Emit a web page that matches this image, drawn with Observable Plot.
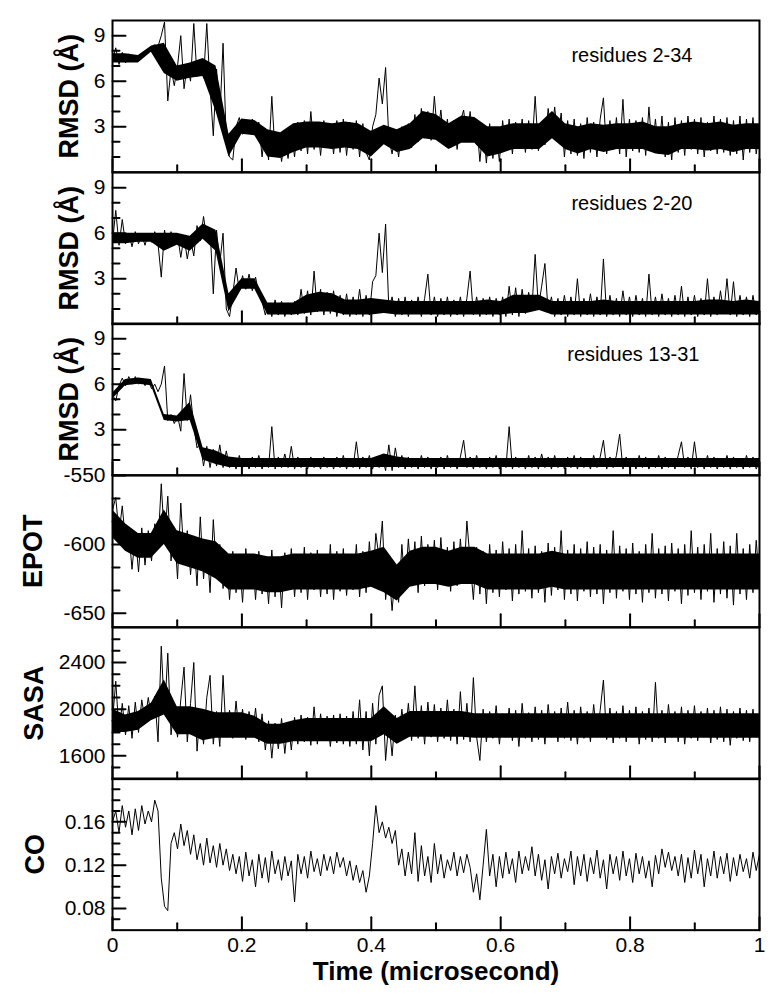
<!DOCTYPE html>
<html><head><meta charset="utf-8">
<script src="https://cdn.jsdelivr.net/npm/d3@7"></script>
<script src="https://cdn.jsdelivr.net/npm/@observablehq/plot@0.6"></script>
<style>
body{margin:0;background:#fff;}
#chart{position:relative;width:781px;height:1006px;}
.panel{position:absolute;left:0;}
</style></head><body><div id="chart"></div>
<script>
// RMSD residues 2-34 (Å), uniformly sampled over 0..1 microsecond
const rmsd234 = [7.3,8.2,7.1,7.9,7.2,7.8,7.3,7.7,7.4,7.6,
7.7,8.1,8.3,8.4,8.3,9.0,9.9,4.7,
6.8,5.7,7.0,9.0,5.5,7.1,6.0,9.8,6.3,7.4,6.2,9.8,5.6,2.4,6.8,3.5,8.5,2.0,1.0,0.8,
3.0,3.6,2.5,3.4,2.6,3.5,2.7,3.3,
1.0,2.9,0.8,5.0,1.2,2.5,0.7,2.2,0.9,2.6,
1.0,3.3,1.4,3.4,1.2,4.0,1.5,3.3,1.1,3.4,1.6,3.2,1.2,3.4,1.3,3.5,1.1,3.3,1.5,3.4,1.0,3.2,1.3,
0.8,3.0,3.8,6.2,4.5,6.9,2.2,
1.2,2.6,1.0,3.0,1.5,3.2,1.6,
3.8,2.0,4.2,2.3,4.0,2.1,5.0,2.4,4.1,1.8,3.5,1.6,
3.4,1.5,3.3,4.1,2.2,4.0,2.0,
3.3,0.7,3.0,0.6,3.2,0.9,2.8,0.7,3.4,
1.4,3.5,1.2,3.3,1.6,3.5,1.3,3.4,1.5,5.0,1.4,3.3,1.8,
4.2,2.3,4.3,2.2,3.9,
1.0,3.4,1.2,3.5,1.1,3.2,0.9,3.6,1.3,3.3,1.0,3.5,4.9,1.2,3.4,1.5,3.6,1.2,4.8,1.0,3.5,1.4,
3.4,1.3,3.6,1.1,4.3,1.4,3.5,1.2,3.7,1.0,3.3,0.8,3.6,1.3,3.4,1.1,3.7,1.5,3.5,1.2,
3.6,1.0,3.3,1.4,3.7,1.2,3.5,1.3,3.6,1.1,3.4,1.2,3.7,0.8,3.5,1.3,3.6,1.2,2.8];
// dense core of the trace, every 0.02 microsecond
const rmsd234Lo = [7.2,7.2,7.2,7.9,6.5,6.0,6.2,6.3,4.0,1.0,2.5,2.4,1.0,0.9,1.3,1.6,1.6,1.5,1.6,1.5,1.0,1.8,1.3,1.5,2.2,2.1,1.5,1.9,1.9,1.0,1.2,1.5,1.5,1.5,2.2,1.5,1.2,1.5,1.3,1.5,1.5,1.5,1.2,1.1,1.5,1.5,1.4,1.5,1.3,1.5,1.5];
const rmsd234Hi = [7.8,7.8,7.7,8.3,8.5,7.0,7.2,7.5,7.0,2.5,3.5,3.4,2.8,2.6,3.2,3.3,3.3,3.2,3.3,3.2,2.7,3.1,2.8,3.2,4.0,3.8,3.2,3.7,3.6,3.0,3.0,3.2,3.2,3.2,4.0,3.2,3.0,3.2,3.1,3.2,3.2,3.3,3.0,3.0,3.2,3.3,3.2,3.3,3.1,3.2,3.2];

// RMSD residues 2-20 (Å)
const rmsd220 = [5.4,7.5,5.2,6.9,5.3,6.0,5.1,6.1,5.3,5.9,5.2,6.0,5.4,6.1,5.3,
3.1,6.2,
5.0,6.1,5.2,5.9,4.4,5.8,4.3,5.6,4.5,
6.5,5.5,7.1,5.6,
6.3,2.0,6.2,4.0,6.0,
1.0,0.5,2.0,
3.7,2.2,3.2,2.3,3.3,2.2,3.1,2.0,
1.5,0.6,1.4,0.5,1.6,0.6,1.5,0.5,1.4,0.6,1.5,
0.6,2.3,0.7,2.2,0.6,3.5,0.8,2.3,0.6,2.1,0.7,2.2,
0.5,1.9,0.6,2.0,0.5,1.8,0.6,2.3,0.5,1.9,0.6,2.8,
3.2,6.0,3.4,6.6,
1.0,1.8,0.5,1.7,0.6,1.8,0.5,1.6,0.7,1.8,0.5,1.7,3.3,0.6,1.8,0.5,1.7,0.6,1.8,0.5,
1.6,0.6,1.8,0.5,1.7,3.5,0.6,1.8,0.5,1.7,0.6,1.8,0.5,1.7,0.6,1.8,
0.5,2.5,0.6,2.4,0.5,2.3,0.7,2.1,
1.0,4.6,1.1,2.5,4.0,0.8,
1.8,0.5,1.7,0.6,1.9,0.5,1.8,0.6,3.0,0.5,1.7,0.6,2.0,0.5,1.8,0.6,4.3,0.5,1.9,0.6,
1.7,0.5,2.2,0.6,1.8,0.5,1.9,0.6,1.7,0.5,3.3,0.6,1.8,0.5,2.0,0.6,1.7,0.5,1.9,0.6,
2.5,0.5,1.8,0.6,1.9,0.5,1.7,0.6,3.0,0.5,1.8,0.6,2.2,0.7,3.0,0.6,2.8,0.5,1.9,0.6,
1.8,0.5,1.9,0.6,1.2];
const rmsd220Lo = [5.3,5.3,5.4,5.4,4.8,5.2,4.8,5.6,4.8,0.8,2.3,2.3,0.6,0.6,0.6,0.7,0.8,0.8,0.6,0.6,0.6,0.7,0.6,0.6,0.6,0.6,0.6,0.6,0.6,0.6,0.6,0.7,0.7,0.9,0.6,0.6,0.6,0.6,0.6,0.6,0.6,0.6,0.6,0.6,0.6,0.6,0.6,0.6,0.6,0.6,0.6];
const rmsd220Hi = [6.0,6.0,6.0,6.0,6.0,6.0,5.8,6.6,6.2,2.0,3.0,3.0,1.4,1.4,1.4,1.9,2.1,2.0,1.6,1.6,1.7,1.6,1.5,1.5,1.5,1.5,1.5,1.5,1.5,1.6,1.5,1.9,1.9,1.9,1.5,1.5,1.5,1.5,1.6,1.5,1.5,1.5,1.5,1.5,1.5,1.5,1.6,1.6,1.5,1.6,1.5];

// RMSD residues 13-31 (Å)
const rmsd1331 = [5.3,4.9,
5.9,6.4,5.9,6.5,6.0,6.5,6.0,6.4,5.9,6.3,5.7,6.0,5.5,
6.0,7.2,3.6,
4.0,3.4,3.9,2.9,
6.7,3.6,5.3,3.2,1.8,
2.1,0.6,1.9,0.5,1.7,0.6,2.0,0.5,1.6,
0.5,1.2,0.4,1.3,0.5,1.1,0.4,1.2,0.5,1.3,
0.4,1.1,0.5,3.2,0.4,1.2,0.5,1.4,0.5,1.9,
0.4,1.2,0.5,1.1,0.4,1.2,0.5,1.0,0.4,1.2,
0.5,1.1,0.4,1.2,0.5,1.3,0.4,1.1,0.5,2.2,
0.4,1.2,0.5,1.3,0.4,1.1,0.5,1.2,0.3,2.0,
0.3,1.8,0.5,1.3,0.4,1.2,0.5,1.1,0.4,1.3,
0.5,1.2,0.4,1.1,0.5,1.2,0.4,1.3,0.5,1.1,
0.4,1.2,2.3,0.5,1.2,0.4,1.3,0.5,1.1,0.4,
1.2,0.5,1.3,0.4,1.1,0.5,3.2,0.4,1.2,0.5,
1.1,0.4,1.3,0.5,1.2,0.4,1.4,0.5,1.2,0.4,
1.3,0.5,1.1,0.4,1.2,0.5,1.3,0.4,1.2,0.5,
1.1,0.4,1.3,0.5,1.2,2.3,0.4,1.2,0.5,1.3,
2.7,0.4,1.2,0.5,1.1,0.4,1.3,0.5,1.2,0.4,
1.1,0.5,1.3,0.4,1.2,0.5,1.1,0.4,1.3,2.2,
0.5,1.2,0.4,2.2,0.5,1.1,0.4,1.3,0.5,1.2,
0.4,1.1,0.5,1.3,0.4,1.2,0.5,1.1,0.4,1.3,
0.5,1.2,0.4,0.9];
const rmsd1331Lo = [5.0,5.9,6.0,5.9,3.6,3.5,3.6,1.0,0.7,0.5,0.5,0.5,0.5,0.5,0.5,0.5,0.5,0.5,0.5,0.5,0.5,0.5,0.5,0.5,0.5,0.5,0.5,0.5,0.5,0.5,0.5,0.5,0.5,0.5,0.5,0.5,0.5,0.5,0.5,0.5,0.5,0.5,0.5,0.5,0.5,0.5,0.5,0.5,0.5,0.5,0.5];
const rmsd1331Hi = [5.4,6.3,6.4,6.3,4.0,3.9,4.8,1.8,1.6,1.2,1.1,1.1,1.1,1.1,1.1,1.1,1.1,1.1,1.1,1.1,1.1,1.4,1.2,1.1,1.1,1.1,1.1,1.1,1.1,1.1,1.1,1.1,1.1,1.1,1.1,1.1,1.1,1.1,1.1,1.1,1.1,1.1,1.1,1.1,1.1,1.1,1.1,1.1,1.1,1.1,1.1];

// Potential energy
const epot = [-575,-566,-592,-572,-598,
-590,-618,-592,-620,-588,-615,-590,-612,-585,
-600,-556,-598,-565,
-612,-588,-625,-570,-610,-590,-622,
-595,-630,-580,-625,-598,-635,-582,-620,-600,-632,
-608,-640,-605,-635,-610,-642,-603,-630,-608,-640,-605,-636,-612,-643,-604,-638,-609,-646,-606,-632,
-603,-638,-608,-635,-602,-640,-606,-633,-604,-638,-609,-636,-600,-640,-605,-634,-603,-637,-607,-633,-600,-638,-605,-635,-598,-630,-592,-610,
-583,
-640,-618,-648,-620,-642,
-600,-632,-596,-628,-598,-635,-594,-630,-600,-627,-597,-633,-595,-629,-602,-634,-598,-630,-596,-628,-583,-612,
-640,-602,-636,-605,-643,-600,-635,-604,-638,-598,
-633,-603,-641,-600,-636,-590,-634,-603,-639,-601,
-635,-605,-642,-599,-637,-602,-633,-590,-640,-604,
-636,-600,-641,-603,-634,-598,-638,-602,-636,-600,
-643,-604,-635,-590,-639,-601,-634,-603,-640,-599,
-636,-605,-642,-600,-635,-592,-639,-603,-636,-601,
-641,-599,-634,-603,-643,-600,-637,-590,-635,-602,
-640,-600,-634,-592,-642,-603,-636,-598,-639,-601,
-644,-592,-636,-603,-640,-600,-635,-597,-628];
const epotLo = [-595,-605,-610,-610,-600,-614,-617,-620,-625,-633,
-633,-633,-635,-635,-633,-633,-633,-633,-633,-633,
-631,-635,-641,-631,-629,-629,-631,-629,-629,-633,
-633,-633,-633,-633,-631,-633,-633,-633,-633,-633,
-633,-633,-633,-633,-633,-633,-633,-633,-633,-633,-633];
const epotHi = [-575,-585,-592,-592,-575,-590,-593,-596,-598,-607,
-607,-607,-609,-609,-607,-607,-607,-607,-607,-607,
-605,-602,-615,-605,-602,-602,-605,-602,-602,-607,
-607,-607,-607,-607,-605,-607,-607,-607,-607,-607,
-607,-607,-607,-607,-607,-607,-607,-607,-607,-607,-607];

// Solvent accessible surface area
const sasa = [1900,2240,1800,
2050,1780,2030,1750,2060,1800,2080,1900,2100,1920,2110,
1720,2540,1950,2480,1780,
2050,1760,2080,2360,1720,2050,2400,1640,2000,1700,2100,2290,1700,1980,1680,2290,
1760,1990,1750,2070,1770,2000,1740,1980,1760,2010,1720,1960,
1650,1900,1580,1880,1660,1920,1620,1890,1650,1930,
1700,1950,1720,1930,1690,2020,1700,1960,1730,1940,1680,1950,1710,1960,1700,1940,1680,1980,
1700,2080,1650,1980,1600,2050,1700,2120,
2200,1560,1900,1600,1950,
1720,2000,1760,2050,1730,2200,1750,2030,1700,2060,1760,2040,1720,2010,1750,2080,1730,2000,1700,2150,1740,2050,1720,2270,1760,1560,
2000,1720,1980,1750,2030,1700,1960,1760,2010,1730,
1990,1680,2050,1750,1970,1720,2020,1740,1990,1700,
2040,1760,1980,1720,2010,1750,2060,1730,1990,1700,
2020,1750,1980,1720,2040,1760,1990,2250,1740,2010,
1710,1980,1750,2030,1720,1990,1760,2020,1700,1980,
1740,2010,1720,2230,1750,1990,1710,2040,1760,1980,
1720,2020,1700,1990,1750,2030,1730,1980,1760,2010,
1710,1990,1740,2020,1720,2000,1690,1980,1750,2010,
1730,1990,1720,2000,1760,1850];
const sasaLo = [1800,1800,1820,1900,1950,1780,1780,1730,1750,1750,
1750,1750,1700,1700,1720,1720,1720,1720,1720,1720,
1720,1780,1700,1760,1760,1760,1760,1760,1750,1750,
1750,1750,1750,1750,1750,1750,1750,1750,1750,1750,
1750,1750,1750,1750,1750,1750,1750,1750,1750,1750,1750];
const sasaHi = [2000,1950,1980,2050,2250,2020,2020,2000,1970,1970,
1970,1940,1870,1870,1900,1920,1920,1920,1920,1920,
1920,2020,1920,1980,1980,1980,1980,1980,1960,1960,
1960,1960,1960,1960,1960,1960,1960,1960,1960,1960,
1960,1960,1960,1960,1960,1960,1960,1960,1960,1960,1960];

// Contact order
const co = [0.16,0.17,0.15,0.175,0.155,0.17,0.148,0.172,0.152,0.175,0.158,0.17,0.16,0.18,
0.17,0.108,0.082,0.078,0.14,
0.15,0.135,0.158,0.138,0.152,0.13,
0.148,0.125,0.14,0.12,0.145,0.122,0.138,0.118,0.14,0.12,0.135,0.115,
0.13,0.112,0.128,0.105,0.132,0.11,0.125,0.1,0.13,0.108,0.127,0.104,0.133,0.112,0.125,0.106,0.128,0.11,0.124,0.086,
0.13,0.112,0.128,0.108,0.133,0.114,0.126,0.11,0.13,0.115,0.128,0.112,0.132,0.118,0.127,0.11,0.124,0.106,0.12,0.104,0.115,0.095,0.11,
0.14,0.175,0.15,0.16,0.145,0.155,0.14,0.152,
0.12,0.135,0.11,0.132,0.112,0.15,0.105,0.138,0.11,0.128,0.104,0.14,0.112,0.13,0.108,0.125,0.115,0.132,0.11,0.128,0.113,0.13,0.118,
0.095,0.112,0.088,0.12,0.153,
0.11,0.13,0.1,0.128,0.108,0.132,0.112,0.126,0.104,0.133,
0.112,0.128,0.115,0.137,0.11,0.13,0.106,0.125,0.098,0.128,
0.112,0.131,0.108,0.126,0.114,0.133,0.102,0.128,0.11,0.13,
0.105,0.127,0.112,0.134,0.108,0.125,0.098,0.13,0.112,0.128,
0.106,0.133,0.11,0.126,0.104,0.131,0.112,0.128,0.108,0.124,
0.1,0.129,0.112,0.135,0.118,0.132,0.115,0.128,0.11,0.13,
0.104,0.127,0.108,0.134,0.112,0.13,0.1,0.126,0.11,0.133,
0.108,0.128,0.112,0.131,0.105,0.127,0.11,0.13,0.114,0.126,
0.108,0.132,0.115,0.13];

// Axis ticks
const xMajor = [0, 0.2, 0.4, 0.6, 0.8, 1];
const xMinor = [0.1, 0.3, 0.5, 0.7, 0.9];
const rmsdTicks = [3, 6, 9];
const rmsdMinor = [1, 2, 4, 5, 7, 8];
const epotTicks = [-550, -600, -650];
const epotMinor = [-566.67, -583.33, -616.67, -633.33];
const sasaTicks = [1600, 2000, 2400];
const sasaMinor = [1500, 1700, 1800, 1900, 2100, 2200, 2300, 2500, 2600];
const coTicks = [0.08, 0.12, 0.16];
const coMinor = [0.07, 0.09, 0.10, 0.11, 0.13, 0.14, 0.15, 0.17, 0.18, 0.19];

const titles = ["RMSD (Å)", "RMSD (Å)", "RMSD (Å)", "EPOT", "SASA", "CO"];
const notes = ["residues 2-34", "residues 2-20", "residues 13-31", null, null, null];
const xTitle = "Time (microsecond)";

const panels = [
  {values: rmsd234, lo: rmsd234Lo, hi: rmsd234Hi, domain: [0, 10], ticks: rmsdTicks, minor: rmsdMinor, fmt: d => String(d), titleDx: -43, noteDx: -67, noteDy: 35},
  {values: rmsd220, lo: rmsd220Lo, hi: rmsd220Hi, domain: [0, 10], ticks: rmsdTicks, minor: rmsdMinor, fmt: d => String(d), titleDx: -43, noteDx: -67, noteDy: 31},
  {values: rmsd1331, lo: rmsd1331Lo, hi: rmsd1331Hi, domain: [0, 10], ticks: rmsdTicks, minor: rmsdMinor, fmt: d => String(d), titleDx: -43, noteDx: -60, noteDy: 31},
  {values: epot, lo: epotLo, hi: epotHi, domain: [-660, -550], ticks: epotTicks, minor: epotMinor, fmt: d => String(d), titleDx: -79},
  {values: sasa, lo: sasaLo, hi: sasaHi, domain: [1400, 2700], ticks: sasaTicks, minor: sasaMinor, fmt: d => String(d), titleDx: -78},
  {values: co, domain: [0.06, 0.2], ticks: coTicks, minor: coMinor, fmt: d => d.toFixed(2), titleDx: -77}
];

const chart = document.getElementById("chart");
const ML = 112, MR = 22, W = 781;
const FW = W - ML - MR;
const PH = (930 - 20) / panels.length;
const MT = 30, MB = 30, MBlast = 76;
const font = "'Liberation Sans', Arial, Helvetica, sans-serif";
const MAJ = 13, MIN = 7; // tick lengths in px

panels.forEach((p, k) => {
  const last = k === panels.length - 1;
  const data = p.values.map((v, i) => ({t: i / (p.values.length - 1), v}));
  // tick segments: start on the frame, reach inward by a fixed pixel length
  const [y0, y1] = p.domain;
  const xPerPx = 1 / FW, yPerPx = (y1 - y0) / PH;
  const segs = [];
  const seg = (id, a, b) => { segs.push({id, ...a}, {id, ...b}); };
  xMajor.forEach((v, i) => seg("xM" + i, {x: v, y: y0}, {x: v, y: y0 + MAJ * yPerPx}));
  xMinor.forEach((v, i) => seg("xm" + i, {x: v, y: y0}, {x: v, y: y0 + MIN * yPerPx}));
  p.ticks.forEach((v, i) => seg("yM" + i, {x: 0, y: v}, {x: MAJ * xPerPx, y: v}));
  p.minor.forEach((v, i) => seg("ym" + i, {x: 0, y: v}, {x: MIN * xPerPx, y: v}));

  const marks = [];
  if (p.lo) {
    const band = p.lo.map((lo, j) => ({t: j / (p.lo.length - 1), lo, hi: p.hi[j]}));
    marks.push(Plot.areaY(band, {x: "t", y1: "lo", y2: "hi", fill: "black"}));
  }
  marks.push(
    Plot.lineY(data, {x: "t", y: "v", stroke: "black", strokeWidth: 1}),
    Plot.line(segs, {x: "x", y: "y", z: "id", stroke: "black", strokeWidth: 2}),
    Plot.axisY(p.ticks, {anchor: "left", tickSize: 0, tickPadding: 7, tickFormat: p.fmt, fill: "black", label: null, fontSize: 21}),
    Plot.frame({stroke: "black", strokeWidth: 2}),
    Plot.text([titles[k]], {text: d => d, frameAnchor: "left", dx: p.titleDx, rotate: -90, fontSize: 27, fontWeight: "bold", textAnchor: "middle", lineAnchor: "middle"})
  );
  if (notes[k]) marks.push(Plot.text([notes[k]], {text: d => d, frameAnchor: "top-right", dx: p.noteDx, dy: p.noteDy, textAnchor: "end", lineAnchor: "middle", fontSize: 20}));
  if (last) {
    marks.push(Plot.axisX(xMajor, {anchor: "bottom", tickSize: 0, tickPadding: 7, tickFormat: d => String(d), fill: "black", label: null, fontSize: 21}));
    marks.push(Plot.text([xTitle], {text: d => d, frameAnchor: "bottom", dy: 42, textAnchor: "middle", lineAnchor: "middle", fontSize: 26, fontWeight: "bold"}));
  }
  const svg = Plot.plot({
    width: W,
    height: MT + PH + (last ? MBlast : MB),
    marginTop: MT, marginBottom: last ? MBlast : MB,
    marginLeft: ML, marginRight: MR,
    x: last ? {domain: [0, 1]} : {domain: [0, 1], axis: null},
    y: {domain: p.domain},
    style: {fontFamily: font, fontSize: "21px", color: "black", background: "transparent", overflow: "visible"},
    marks
  });
  const div = document.createElement("div");
  div.className = "panel";
  div.style.top = (20 + k * PH - MT) + "px";
  div.appendChild(svg);
  chart.appendChild(div);
});
</script></body></html>
